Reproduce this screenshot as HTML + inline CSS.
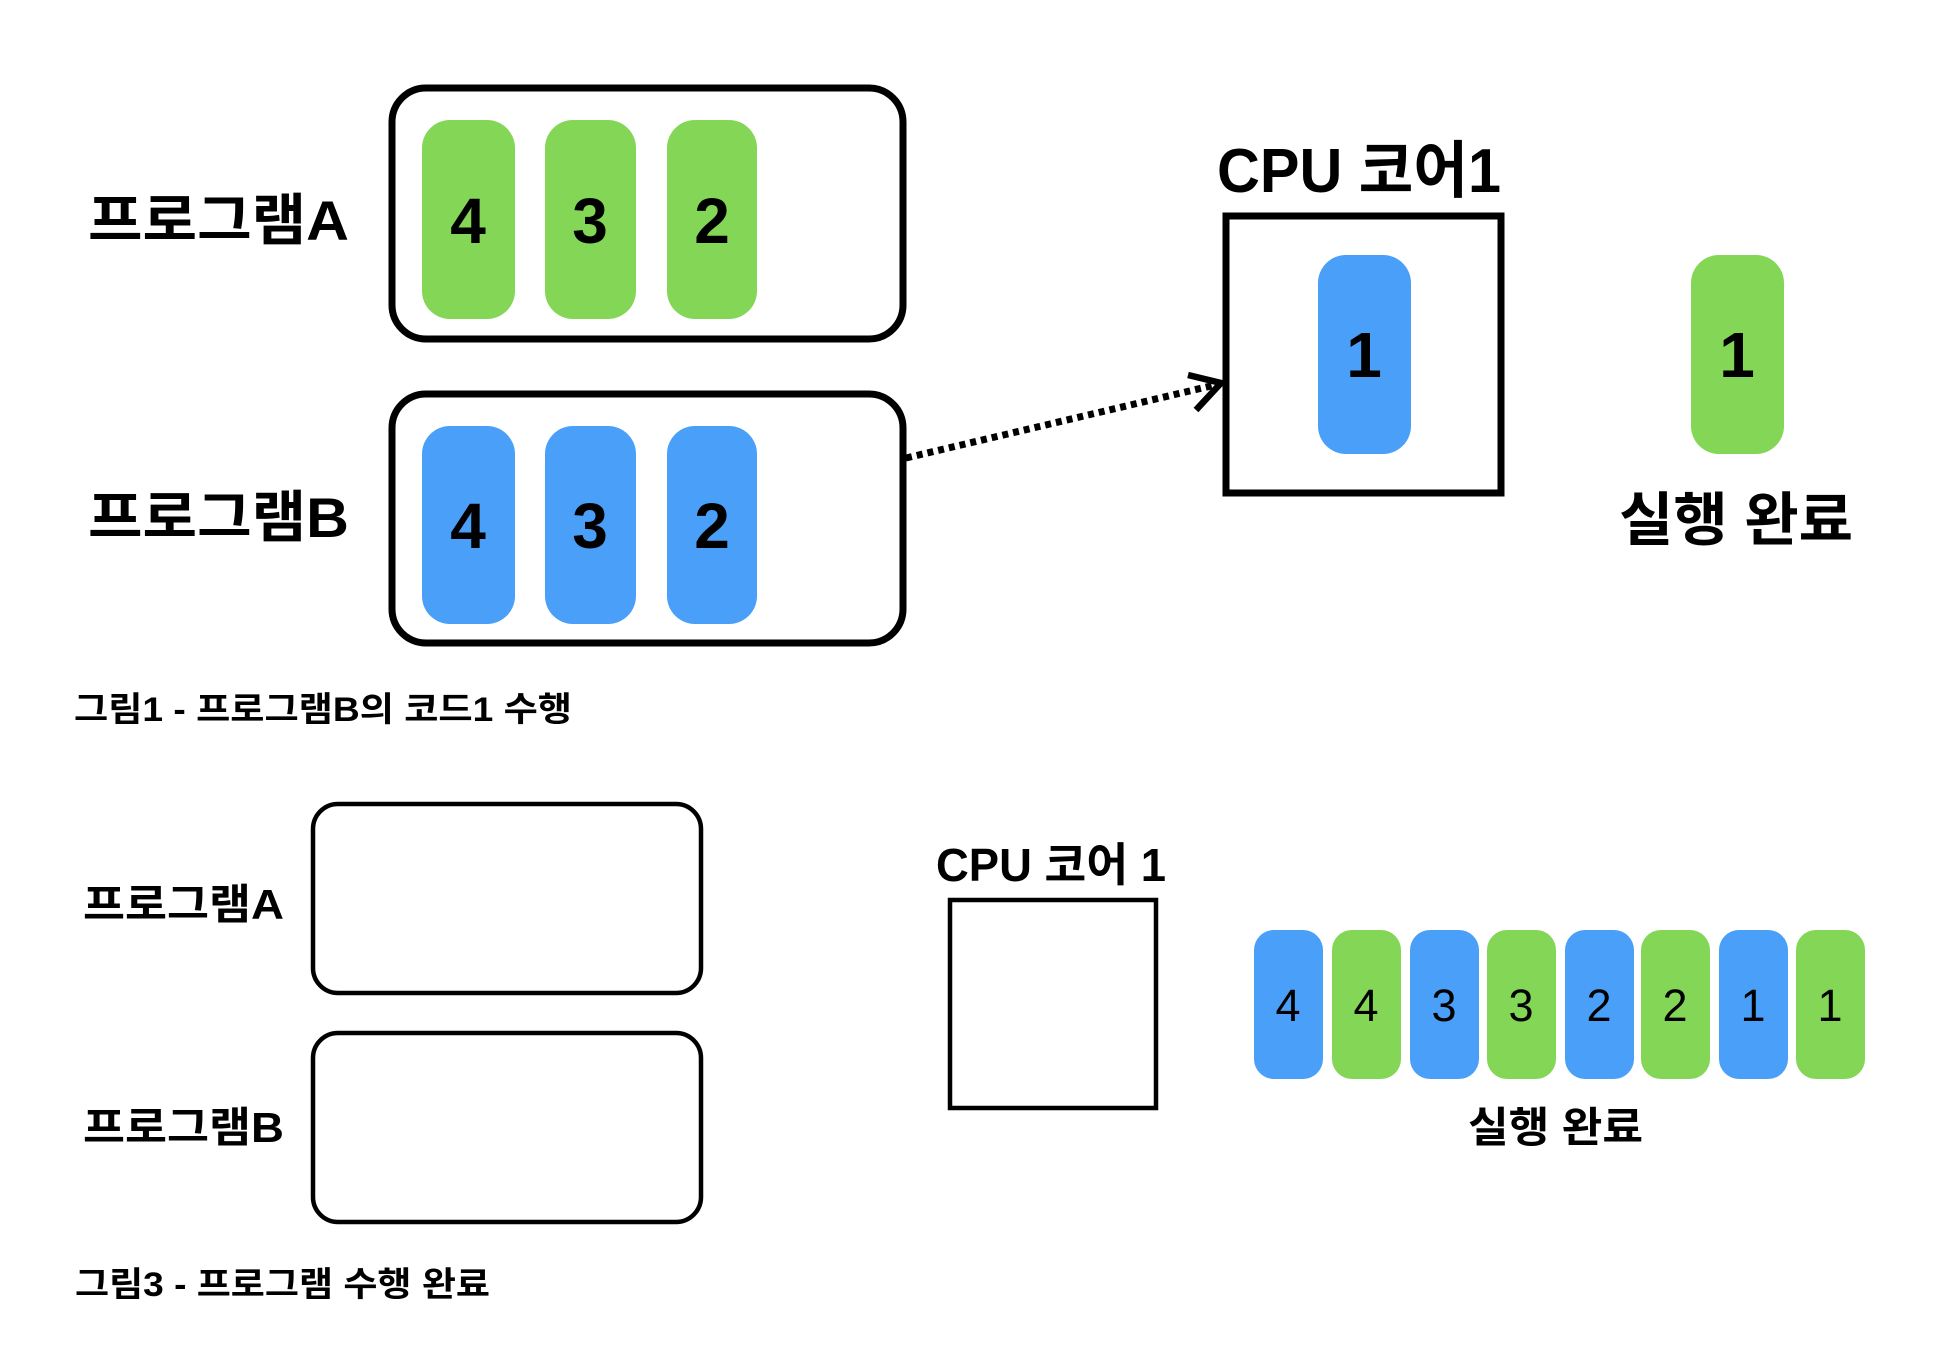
<!DOCTYPE html>
<html><head><meta charset="utf-8"><style>
html,body{margin:0;padding:0;background:#fff;}
svg{display:block;}
text{font-family:"Liberation Sans","Noto Sans CJK KR",sans-serif;fill:#000;}
</style></head><body>
<svg width="1960" height="1362" viewBox="0 0 1960 1362" xmlns="http://www.w3.org/2000/svg">
<rect width="1960" height="1362" fill="#fff"/>
<g font-weight="bold">
<rect x="392" y="88" width="511" height="251" rx="34" fill="none" stroke="#000" stroke-width="7"/>
<rect x="392" y="394" width="511" height="249" rx="34" fill="none" stroke="#000" stroke-width="7"/>
<g fill="#84D656">
<rect x="422" y="120" width="93" height="199" rx="28"/>
<rect x="545" y="120" width="91" height="199" rx="28"/>
<rect x="667" y="120" width="90" height="199" rx="28"/>
<rect x="1691" y="255" width="93" height="199" rx="28"/>
</g>
<g fill="#4A9FF9">
<rect x="422" y="426" width="93" height="198" rx="28"/>
<rect x="545" y="426" width="91" height="198" rx="28"/>
<rect x="667" y="426" width="90" height="198" rx="28"/>
<rect x="1318" y="255" width="93" height="199" rx="28"/>
</g>
<g font-size="64" text-anchor="middle">
<text x="468" y="243">4</text><text x="590" y="243">3</text><text x="712" y="243">2</text>
<text x="468" y="548">4</text><text x="590" y="548">3</text><text x="712" y="548">2</text>
<text x="1364" y="377">1</text><text x="1737" y="377">1</text>
</g>
<text x="88" y="240" font-size="56" textLength="261" lengthAdjust="spacingAndGlyphs">프로그램A</text>
<text x="88" y="537" font-size="56" textLength="261" lengthAdjust="spacingAndGlyphs">프로그램B</text>
<text x="74" y="721" font-size="34" textLength="498" lengthAdjust="spacingAndGlyphs">그림1 - 프로그램B의 코드1 수행</text>
<text x="1217" y="192" font-size="62" textLength="284" lengthAdjust="spacingAndGlyphs">CPU 코어1</text>
<rect x="1226" y="216" width="275" height="277" fill="none" stroke="#000" stroke-width="7"/>
<text x="1619" y="540" font-size="58" textLength="234" lengthAdjust="spacingAndGlyphs">실행 완료</text>
<line x1="906" y1="458" x2="1215" y2="385" stroke="#000" stroke-width="7" stroke-dasharray="6 5"/>
<polyline points="1188,375 1221,383 1196,410" fill="none" stroke="#000" stroke-width="6.5"/>

<rect x="313" y="804" width="388" height="189" rx="25" fill="none" stroke="#000" stroke-width="4.5"/>
<rect x="313" y="1033" width="388" height="189" rx="25" fill="none" stroke="#000" stroke-width="4.5"/>
<text x="83" y="919" font-size="42" textLength="201" lengthAdjust="spacingAndGlyphs">프로그램A</text>
<text x="83" y="1142" font-size="42" textLength="201" lengthAdjust="spacingAndGlyphs">프로그램B</text>
<text x="936" y="881" font-size="46" textLength="230" lengthAdjust="spacingAndGlyphs">CPU 코어 1</text>
<rect x="950" y="900" width="206" height="208" fill="none" stroke="#000" stroke-width="4.5"/>
<g>
<rect x="1254" y="930" width="69" height="149" rx="20" fill="#4A9FF9"/>
<rect x="1332" y="930" width="69" height="149" rx="20" fill="#84D656"/>
<rect x="1410" y="930" width="69" height="149" rx="20" fill="#4A9FF9"/>
<rect x="1487" y="930" width="69" height="149" rx="20" fill="#84D656"/>
<rect x="1565" y="930" width="69" height="149" rx="20" fill="#4A9FF9"/>
<rect x="1641" y="930" width="69" height="149" rx="20" fill="#84D656"/>
<rect x="1719" y="930" width="69" height="149" rx="20" fill="#4A9FF9"/>
<rect x="1796" y="930" width="69" height="149" rx="20" fill="#84D656"/>
</g>
<g font-size="45" font-weight="normal" text-anchor="middle">
<text x="1288" y="1021">4</text><text x="1366" y="1021">4</text><text x="1444" y="1021">3</text><text x="1521" y="1021">3</text>
<text x="1599" y="1021">2</text><text x="1675" y="1021">2</text><text x="1753" y="1021">1</text><text x="1830" y="1021">1</text>
</g>
<text x="1468" y="1142" font-size="42" textLength="175" lengthAdjust="spacingAndGlyphs">실행 완료</text>
<text x="75" y="1296" font-size="34" textLength="415" lengthAdjust="spacingAndGlyphs">그림3 - 프로그램 수행 완료</text>
</g>
</svg>
</body></html>
